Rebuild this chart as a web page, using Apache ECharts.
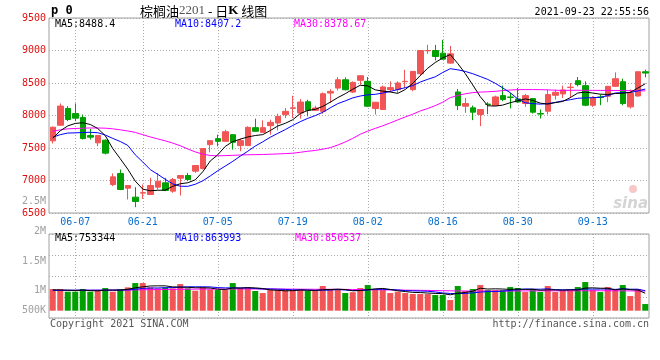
<!DOCTYPE html>
<html><head><meta charset="utf-8">
<script src="https://cdn.jsdelivr.net/npm/echarts@6/dist/echarts.min.js"></script>
<style>html,body{margin:0;padding:0;background:#fff}#c{width:660px;height:360px}</style>
</head><body><div id="c"></div>
<script>
const dates = ['06-02','06-03','06-04','06-07','06-08','06-09','06-10','06-11','06-15','06-16','06-17','06-18','06-21','06-22','06-23','06-24','06-25','06-28','06-29','06-30','07-01','07-02','07-05','07-06','07-07','07-08','07-09','07-12','07-13','07-14','07-15','07-16','07-19','07-20','07-21','07-22','07-23','07-26','07-27','07-28','07-29','07-30','08-02','08-03','08-04','08-05','08-06','08-09','08-10','08-11','08-12','08-13','08-16','08-17','08-18','08-19','08-20','08-23','08-24','08-25','08-26','08-27','08-30','08-31','09-01','09-02','09-03','09-06','09-07','09-08','09-09','09-10','09-13','09-14','09-15','09-16','09-17','09-22','09-23','09-24'];
const tickLabels = ['06-07','06-21','07-05','07-19','08-02','08-16','08-30','09-13'];

const open = [7610,7850,8108,8031,7969,7692,7579,7621,6938,7108, 6882,6744,6806,6785,6898,6964,6836,7036,7077,7144, 7185,7552,7644,7603,7705,7537,7537,7813,7741,7844, 7885,8012,8110,8038,8212,8079,8064,8345,8422,8550, 8360,8541,8526,8107,8092,8398,8398,8520,8398,8643, 8995,9000,8959,8806,8362,8143,8118,8016,8176,8153, 8306,8285,8255,8184,8260,8030,8066,8311,8332,8430, 8536,8459,8158,8285,8296,8449,8520,8133,8300,8673];
const high = [7830,8185,8144,8185,8015,7795,7700,7631,7108,7169, 6925,6898,6938,7041,7118,7041,7041,7080,7118,7235, 7495,7615,7705,7782,7710,7644,7833,7951,7925,7936, 8028,8115,8304,8253,8243,8150,8355,8406,8591,8586, 8524,8615,8592,8205,8459,8526,8526,8704,8685,9005, 9087,9087,9163,9071,8408,8271,8153,8095,8204,8306, 8459,8347,8423,8332,8270,8092,8398,8398,8459,8500, 8592,8526,8296,8322,8450,8663,8566,8398,8675,8704];
const low = [7570,7845,7913,7913,7631,7631,7528,7400,6913,6851, 6708,6590,6718,6780,6862,6836,6810,6769,6990,7118, 7169,7434,7526,7600,7475,7450,7535,7755,7731,7705, 7772,7961,7961,7951,7987,8075,8028,8192,8386,8386, 8345,8475,8133,8016,8090,8357,8347,8424,8373,8612, 8949,8847,8857,8796,8082,8041,7929,7837,8020,8150, 8220,8110,8194,8133,8031,7954,8016,8245,8270,8270, 8449,8143,8133,8158,8204,8439,8158,8107,8290,8587];
const close = [7820,8145,7938,7959,7646,7667,7692,7421,7056,6862, 6923,6677,6812,6923,6990,6846,7015,7077,7015,7231, 7492,7613,7603,7751,7588,7613,7818,7757,7813,7895, 7987,8064,8118,8207,8079,8115,8335,8371,8550,8396, 8509,8612,8143,8204,8439,8429,8500,8526,8679,9000, 9000,8908,8867,8949,8153,8184,8051,8092,8169,8286, 8245,8278,8209,8306,8051,8022,8322,8357,8393,8436, 8475,8158,8270,8278,8449,8566,8184,8347,8673,8653];

const ma5 = [7650,7765,7840,7878,7888,7862,7800,7690,7492,7335, 7175,6990,6868,6842,6850,6852,6910,6950,6965,7010, 7135,7300,7395,7525,7598,7636,7670,7692,7706,7768, 7838,7880,7935,8030,8078,8095,8140,8205,8275,8335, 8405,8465,8455,8395,8375,8362,8340,8400,8495,8615, 8728,8815,8887,8937,8800,8645,8470,8290,8150,8145, 8160,8197,8226,8255,8232,8190,8175,8198,8216,8275, 8346,8360,8346,8328,8324,8338,8343,8356,8421,8488.4];
const ma10 = [7667,7705,7730,7733,7738,7742,7735,7700,7648,7600, 7540,7395,7285,7168,7095,7018,6948,6912,6910,6942, 6995,7070,7150,7222,7294,7375,7450,7530,7595,7665, 7725,7783,7847,7905,7956,7998,8050,8118,8182,8225, 8271,8300,8318,8326,8345,8370,8400,8428,8460,8515, 8557,8595,8662,8720,8703,8678,8643,8600,8555,8495, 8425,8350,8255,8196,8183,8175,8183,8202,8225,8243, 8265,8271,8275,8279,8306,8346,8352,8354,8378,8407.2];
const ma30 = [7755,7780,7795,7800,7805,7808,7808,7805,7795,7780, 7762,7740,7705,7670,7640,7610,7575,7535,7485,7440, 7405,7385,7380,7383,7387,7392,7396,7398,7400,7404, 7409,7414,7420,7434,7450,7462,7482,7505,7545,7593, 7648,7712,7760,7802,7842,7886,7932,7978,8020,8070, 8108,8152,8205,8275,8308,8334,8352,8360,8365,8372, 8383,8392,8398,8399,8399,8398,8394,8389,8386,8388, 8388,8387,8387,8386,8386,8385,8384,8382,8380,8378.67];

const volume = [936000,936000,821000,821000,936000,821000,893000,979000,821000,936000, 1008000,1195000,1195000,1008000,965000,1008000,965000,1152000,965000,864000, 1008000,922000,893000,893000,1195000,979000,1008000,850000,763000,893000, 893000,893000,893000,893000,850000,850000,1066000,922000,922000,763000, 800000,979000,1109000,936000,893000,763000,821000,763000,720000,720000, 720000,677000,677000,461000,1066000,850000,936000,1109000,893000,893000, 893000,1022000,979000,806000,936000,806000,1066000,806000,850000,893000, 1022000,1238000,893000,806000,1022000,893000,1109000,634000,936000,288000];
const volMa5 = [900000,895000,885000,875000,890000,867000,858000,890000,890000,890000, 927000,988000,1031000,1068000,1074000,1074000,1028000,1020000,1011000,991000, 991000,982000,930000,916000,982000,976000,994000,985000,959000,899000, 881000,858000,867000,893000,884000,876000,910000,916000,931000,913000, 860000,871000,909000,943000,962000,919000,861000,827000,792000,783000, 763000,746000,737000,686000,755000,789000,841000,971000,936000,945000, 936000,919000,936000,919000,927000,884000,901000,901000,884000,902000, 893000,979000,988000,970000,970000,901000,945000,910000,893000,753344];
const volMa10 = [880000,882000,884000,885000,886000,887000,888000,889000,889000,890000, 897000,925000,962000,980000,982000,992000,1000000,1018000,1032000,1033000, 1033000,1028000,998000,985000,987000,984000,988000,958000,937000,940000, 929000,920000,898000,904000,892000,880000,884000,891000,912000,895000, 870000,880000,893000,925000,924000,911000,896000,868000,860000,850000, 841000,810000,768000,745000,739000,747000,769000,804000,826000,828000, 845000,877000,905000,939000,932000,928000,946000,908000,904000,906000, 919000,941000,932000,935000,940000,920000,945000,928000,930000,863993];
const volMa30 = [875000,876000,877000,878000,879000,880000,882000,884000,886000,888000, 892000,898000,905000,910000,914000,918000,922000,926000,929000,931000, 933000,934000,935000,936000,938000,939000,940000,940000,939000,938000, 936000,934000,932000,930000,928000,926000,925000,924000,922000,920000, 916000,912000,908000,904000,900000,896000,892000,888000,884000,880000, 875000,870000,865000,858000,855000,852000,850000,849000,848000,848000, 849000,850000,852000,854000,856000,857000,858000,859000,860000,860000, 860000,861000,862000,862000,861000,860000,858000,856000,853000,850537];

const volLabels = [{t:'2M',y:231},{t:'1.5M',y:261},{t:'1M',y:290},{t:'500K',y:310}];

const RED = '#f25555', GREEN = '#00a000';
const MONO = '"DejaVu Sans Mono", monospace';
const last = a => a[a.length - 1];

const kData = close.map((c, i) => [open[i], c, low[i], high[i]]);
const volData = volume.map((v, i) => ({ value: v, itemStyle: { color: close[i] >= open[i] ? RED : GREEN } }));
const gridIdx = tickLabels.map(t => dates.indexOf(t));

function vLine(params, api) {
  const x = Math.round(api.coord([api.value(0), api.value(1)])[0]) + 0.5;
  const cs = params.coordSys;
  return { type: 'line', silent: true,
    shape: { x1: x, y1: cs.y, x2: x, y2: cs.y + cs.height },
    style: { stroke: '#aaa', lineWidth: 1, lineDash: [1, 2] } };
}
function txt(x, y, text, fill, align, font) {
  return { type: 'text', x: x, y: y, silent: true,
    style: { text: text, fill: fill, align: align || 'left', verticalAlign: 'middle', font: font || ('10px ' + MONO) } };
}

const chart = echarts.init(document.getElementById('c'), null, { renderer: 'canvas' });
const option = {
  animation: false,
  backgroundColor: '#fff',
  grid: [
    { left: 49, right: 11, top: 18, height: 195, show: true, borderColor: '#a0a0a0', borderWidth: 1 },
    { left: 49, right: 11, top: 234, height: 84, show: true, borderColor: '#a0a0a0', borderWidth: 1 }
  ],
  xAxis: [
    { type: 'category', gridIndex: 0, data: dates, boundaryGap: true,
      axisLine: { show: false }, axisTick: { show: false }, splitLine: { show: false },
      axisLabel: { interval: (i, v) => tickLabels.indexOf(v) >= 0, color: '#0a6fcf', fontFamily: MONO, fontSize: 10, margin: 4 } },
    { type: 'category', gridIndex: 1, data: dates, boundaryGap: true,
      axisLine: { show: false }, axisTick: { show: false }, axisLabel: { show: false }, splitLine: { show: false } }
  ],
  yAxis: [
    { type: 'value', gridIndex: 0, min: 6500, max: 9500, interval: 500,
      axisLine: { show: false }, axisTick: { show: false },
      axisLabel: { color: '#e01010', fontFamily: MONO, fontSize: 10, margin: 3, padding: [0, 0, 5, 0], formatter: v => String(v) },
      splitLine: { lineStyle: { color: '#aaa', type: [1, 2] } } },
    { type: 'value', gridIndex: 1, min: -315000, max: 3313000, show: false, splitLine: { show: false } },
    { type: 'value', gridIndex: 1, min: 0, max: 4, interval: 1, position: 'left',
      axisLine: { show: false }, axisTick: { show: false }, axisLabel: { show: false },
      splitLine: { lineStyle: { color: '#aaa', type: [1, 2] } } }
  ],
  series: [
    { type: 'custom', xAxisIndex: 0, yAxisIndex: 0, z: 1, renderItem: vLine, encode: { x: 0, y: 1 },
      data: gridIdx.map(i => [i, 8000]) },
    { type: 'custom', xAxisIndex: 1, yAxisIndex: 1, z: 1, renderItem: vLine, encode: { x: 0, y: 1 },
      data: gridIdx.map(i => [i, 0]) },
    { type: 'candlestick', xAxisIndex: 0, yAxisIndex: 0, data: kData, barWidth: 6, z: 2,
      itemStyle: { color: RED, color0: GREEN, borderColor: RED, borderColor0: GREEN, borderWidth: 1 } },
    { type: 'line', xAxisIndex: 0, yAxisIndex: 0, data: ma30, showSymbol: false, z: 3, lineStyle: { color: '#ff00ff', width: 1 } },
    { type: 'line', xAxisIndex: 0, yAxisIndex: 0, data: ma10, showSymbol: false, z: 3, lineStyle: { color: '#0000ff', width: 1 } },
    { type: 'line', xAxisIndex: 0, yAxisIndex: 0, data: ma5, showSymbol: false, z: 3, lineStyle: { color: '#000000', width: 1 } },
    { type: 'bar', xAxisIndex: 1, yAxisIndex: 1, data: volData, barWidth: 6, z: 2 },
    { type: 'line', xAxisIndex: 1, yAxisIndex: 1, data: volMa30, showSymbol: false, z: 3, lineStyle: { color: '#ff00ff', width: 1 } },
    { type: 'line', xAxisIndex: 1, yAxisIndex: 1, data: volMa10, showSymbol: false, z: 3, lineStyle: { color: '#0000ff', width: 1 } },
    { type: 'line', xAxisIndex: 1, yAxisIndex: 1, data: volMa5, showSymbol: false, z: 3, lineStyle: { color: '#000000', width: 1 } }
  ],
  graphic: [
    txt(51, 11, 'p 0', '#000', 'left', 'bold 12px ' + MONO),
    { type: 'text', x: 140, y: 11, silent: true,
      style: { text: '{a|棕榈油}{b|2201}{a| - 日}{k|K}{a| 线图}', verticalAlign: 'middle',
        rich: { a: { font: '13px "Noto Sans CJK SC"', fill: '#000' },
                b: { font: '13px "Liberation Serif"', fill: '#555' },
                k: { font: 'bold 13px "Liberation Serif"', fill: '#000' } } } },
    txt(649, 12, '2021-09-23 22:55:56', '#000', 'right'),
    txt(55, 24, 'MA5:' + last(ma5), '#000'),
    txt(175, 24, 'MA10:' + last(ma10), '#0000ff'),
    txt(294, 24, 'MA30:' + last(ma30), '#ff00ff'),
    txt(55, 238, 'MA5:' + last(volMa5), '#000'),
    txt(175, 238, 'MA10:' + last(volMa10), '#0000ff'),
    txt(295, 238, 'MA30:' + last(volMa30), '#ff00ff'),
    txt(46, 201, '2.5M', '#a0a0a0', 'right'),
    ...volLabels.map(l => txt(46, l.y, l.t, '#a0a0a0', 'right')),
    txt(50, 324, 'Copyright 2021 SINA.COM', '#555'),
    txt(649, 324, 'http://finance.sina.com.cn', '#555', 'right'),
    { type: 'circle', silent: true, shape: { cx: 633, cy: 189, r: 4 }, style: { fill: '#f8c8c8' } },
    txt(648, 204, 'sina', '#d4d4d4', 'right', 'italic bold 15px "DejaVu Sans"')
  ]
};
chart.setOption(option);
</script>
</body></html>
